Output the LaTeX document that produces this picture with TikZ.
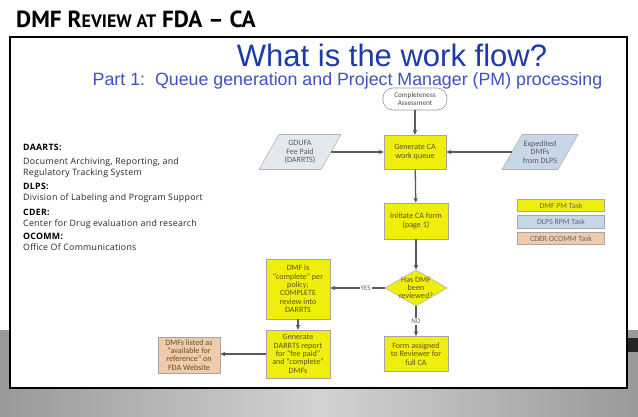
\documentclass[tikz,border=0pt]{standalone}
\usepackage{fontspec}
\setmainfont{Liberation Sans}
\newfontfamily\titlefont{PT Sans}
\newfontfamily\deffont[LetterSpace=3]{Open Sans}
\newfontfamily\boxfont{Carlito}
\usetikzlibrary{shapes.geometric,arrows.meta}
\definecolor{pmyellow}{RGB}{240,238,12}
\definecolor{rpmblue}{RGB}{200,215,232}
\definecolor{ocpeach}{RGB}{240,202,172}
\definecolor{gdgrey}{RGB}{228,233,240}
\definecolor{wfblue}{RGB}{28,58,168}
\definecolor{subblue}{RGB}{62,82,192}
\definecolor{conn}{RGB}{90,90,90}
\definecolor{ntext}{RGB}{95,85,25}
\tikzset{
  box/.style={draw=black!35, line width=0.6pt, align=center,
    font=\boxfont\fontsize{8.1}{8.4}\selectfont, text=ntext, inner sep=1pt},
  pmbox/.style={box, fill=pmyellow},
  ocbox/.style={box, fill=ocpeach},
  legbox/.style={box, minimum width=87pt, minimum height=12.5pt, text=black!60,
    font=\boxfont\fontsize{7.8}{8.4}\selectfont},
  flow/.style={draw=conn, line width=1.3pt, -{Stealth[length=5pt,width=4.5pt]}},
  deftitle/.style={anchor=base west, inner sep=0, font=\deffont\bfseries\fontsize{8.8}{10}\selectfont},
  deftext/.style={anchor=base west, inner sep=0, font=\deffont\fontsize{8.8}{10}\selectfont, text=black!85},
  flab/.style={fill=white, inner sep=1pt, font=\boxfont\fontsize{7}{8}\selectfont, text=black!60}
}
\begin{document}
\begin{tikzpicture}[x=1pt,y=-1pt]
\useasboundingbox (0,0) rectangle (638,417);
\fill[white] (0,0) rectangle (638,417);
% grey lower band
\shade[left color=gray!80, right color=gray!80, middle color=gray!35] (0,330) rectangle (638,417);
\fill[black!85] (627,338) rectangle (638,352);
% title
\node[anchor=base west, inner sep=0, font=\titlefont\bfseries\fontsize{23.3}{28}\selectfont] (title) at (16,28)
  {DMF R{\fontsize{18}{22}\selectfont EVIEW AT} FDA – CA};
% frame
\draw[line width=2pt, fill=white] (10,37) rectangle (627,388);
% headings
\node[anchor=base, font=\fontsize{31}{34}\selectfont, text=wfblue, inner sep=0] (wf) at (392,67) {What is the work flow?};
\node[anchor=base, font=\fontsize{17.8}{20}\selectfont, text=subblue, inner sep=0] (sub) at (347.5,86)
  {Part 1:\ \ Queue generation and Project Manager (PM) processing};
% definitions
\node[deftitle] (d1) at (23,151) {DAARTS:};
\node[deftext] (d1a) at (23,165) {Document Archiving, Reporting, and};
\node[deftext] (d1b) at (23,176) {Regulatory Tracking System};
\node[deftitle] (d2) at (23,190) {DLPS:};
\node[deftext] (d2a) at (23,201) {Division of Labeling and Program Support};
\node[deftitle] (d3) at (23,215) {CDER:};
\node[deftext] (d3a) at (23,226) {Center for Drug evaluation and research};
\node[deftitle] (d4) at (23,240) {OCOMM:};
\node[deftext] (d4a) at (23,251) {Office Of Communications};
% flowchart
\node[box, rounded corners=10pt, fill=white, draw=black!40, minimum width=64pt, minimum height=22pt, text=black!70,
  font=\boxfont\fontsize{7.2}{7.8}\selectfont] (comp) at (415,99)
  {Completeness\\Assessment};
\node[pmbox, minimum width=62pt, minimum height=34pt] (gen) at (415,152) {Generate CA\\work queue};
% parallelograms
\fill[gdgrey, draw=black!30, line width=0.6pt] (259,169.5) -- (321,169.5) -- (341,134.5) -- (279,134.5) -- cycle;
\node[box, draw=none, minimum width=62pt, minimum height=35pt, text=black!65] (gdufa) at (300,152) {GDUFA\\Fee Paid\\(DARRTS)};
\fill[rpmblue, draw=black!30, line width=0.6pt] (502,169.5) -- (558,169.5) -- (578,134.5) -- (522,134.5) -- cycle;
\node[box, draw=none, minimum width=56pt, minimum height=35pt, text=black!65] (exp) at (540,152) {Expedited\\DMFs\\from DLPS};
\node[pmbox, minimum width=64pt, minimum height=36pt] (init) at (416,221) {Initiate CA form\\(page 1)};
\node[diamond, draw=black!30, fill=pmyellow, line width=0.6pt, minimum width=62pt, minimum height=36pt, inner sep=0, aspect=1.72] (dia) at (416,288) {};
\node[box, draw=none, fill=none] (dial) at (dia.center) {Has DMF\\been\\reviewed?};
\node[pmbox, minimum width=64pt, minimum height=35pt] (form) at (416,354) {Form assigned\\to Reviewer for\\full CA};
\node[pmbox, minimum width=64pt, minimum height=60pt] (compl) at (298,289)
  {DMF is\\“complete” per\\policy;\\COMPLETE\\review into\\DARRTS};
\node[pmbox, minimum width=64pt, minimum height=48pt] (rep) at (298,354)
  {Generate\\DARRTS report\\for “fee paid”\\and “complete”\\DMFs};
\node[ocbox, minimum width=62pt, minimum height=36pt] (web) at (189,355)
  {DMFs listed as\\“available for\\reference” on\\FDA Website};
% legend
\node[legbox, fill=pmyellow] (l1) at (561,205.5) {DMF PM Task};
\node[legbox, fill=rpmblue] (l2) at (561,222) {DLPS RPM Task};
\node[legbox, fill=ocpeach] (l3) at (561,238.5) {CDER OCOMM Task};
% connectors
\draw[flow] (comp) -- (gen);
\draw[flow] (gdufa.east) -- (gen.west);
\draw[flow] (exp.west) -- (gen.east);
\draw[flow] (gen) -- (init);
\draw[flow] (init) -- (dia.north);
\draw[flow] (dia.south) -- node[flab] {NO} (form.north);
\draw[flow] (dia.west) -- node[flab, pos=0.35] {YES} (compl.east |- dia.west);
\draw[flow] (compl) -- (rep);
\draw[flow] (rep.west) -- (web.east |- rep.west);
\end{tikzpicture}
\end{document}
